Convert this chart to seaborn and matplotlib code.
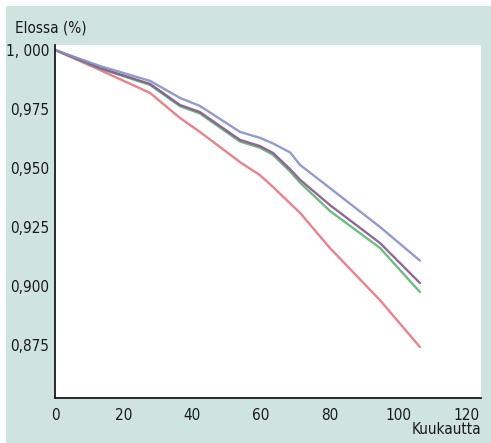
import pandas as pd
import numpy as np
import matplotlib.pyplot as plt
import seaborn as sns
from matplotlib.patches import Rectangle
from matplotlib import font_manager

# survival curves (months, proportion alive)
months = [0, 13.1, 27.7, 36.4, 42.2, 53.9, 59.7, 63.5, 68.5, 71.4, 80.1, 94.7, 106.3]
blue_vals = [1.000, 0.9932, 0.9869, 0.9797, 0.9763, 0.9653, 0.9628, 0.9604, 0.9566, 0.9513, 0.9415, 0.9250, 0.9108]
purple_vals = [1.000, 0.9924, 0.9856, 0.9767, 0.9737, 0.9619, 0.9593, 0.9564, 0.9495, 0.9450, 0.9343, 0.9182, 0.9013]
green_vals = [1.000, 0.9921, 0.9852, 0.9762, 0.9731, 0.9612, 0.9586, 0.9556, 0.9485, 0.9438, 0.9318, 0.9161, 0.8975]
red_vals = [1.000, 0.9915, 0.9818, 0.9712, 0.9653, 0.9525, 0.9470, 0.9420, 0.9350, 0.9310, 0.9161, 0.8940, 0.8742]

series = {'sininen': blue_vals, 'violetti': purple_vals, 'vihrea': green_vals, 'punainen': red_vals}
colors = {'sininen': '#8590c8', 'violetti': '#86588e', 'vihrea': '#5fb574', 'punainen': '#e9737e'}

ytick_vals = [1.000, 0.975, 0.950, 0.925, 0.900, 0.875]
ytick_labels = ['1, 000', '0,975', '0,950', '0,925', '0,900', '0,875']
xtick_vals = [0, 20, 40, 60, 80, 100, 120]

rows = []
for name, vals in series.items():
    for m, v in zip(months, vals):
        rows.append({'Kuukautta': m, 'Elossa': v, 'ryhma': name})
df = pd.DataFrame(rows)

sns.set_style('white')
names = {f.name for f in font_manager.fontManager.ttflist}
narrow = [n for n in ['Liberation Sans Narrow', 'Arial Narrow'] if n in names]
plt.rcParams['font.family'] = narrow + ['DejaVu Sans']
plt.rcParams['font.stretch'] = 'condensed'
fs = 11

teal = '#cfe4de'
fig = plt.figure(figsize=(4.91, 4.43), dpi=100, facecolor='white')
fig.patches.append(Rectangle((6 / 491, 0), 1, 1 - 6 / 443, transform=fig.transFigure,
                             facecolor=teal, edgecolor='none', zorder=-10))
ax = fig.add_axes([55 / 491, 1 - 398 / 443, (481 - 55) / 491, (398 - 45) / 443])
ax.set_facecolor('white')

sns.lineplot(data=df, x='Kuukautta', y='Elossa', hue='ryhma', palette=colors,
             hue_order=['punainen', 'vihrea', 'violetti', 'sininen'],
             linewidth=1.7, alpha=0.9, legend=False, ax=ax)

ax.set_xlim(0, 124.1)
ax.set_ylim(0.8526, 1.0021)
ax.set_xticks(xtick_vals)
ax.set_xticklabels([str(t) for t in xtick_vals])
ax.set_yticks(ytick_vals)
ax.set_yticklabels(ytick_labels)
ax.tick_params(axis='both', direction='in', length=8.5, width=1.1, colors='#1a1a1a',
               labelsize=fs, labelcolor='#1a1a1a')
ax.tick_params(axis='y', pad=4)
ax.tick_params(axis='x', pad=7)
ax.set_xlabel('')
ax.set_ylabel('')
for side in ['top', 'right']:
    ax.spines[side].set_visible(False)
for side in ['left', 'bottom']:
    ax.spines[side].set_color('#1a1a1a')
    ax.spines[side].set_linewidth(1.3)

fig.text(15 / 491, 1 - 28 / 443, 'Elossa (%)', ha='left', va='center', fontsize=fs, color='#1a1a1a')
fig.text(481 / 491, 1 - 430 / 443, 'Kuukautta', ha='right', va='center', fontsize=fs, color='#1a1a1a')

fig.savefig('out.png', dpi=100, facecolor=fig.get_facecolor())
